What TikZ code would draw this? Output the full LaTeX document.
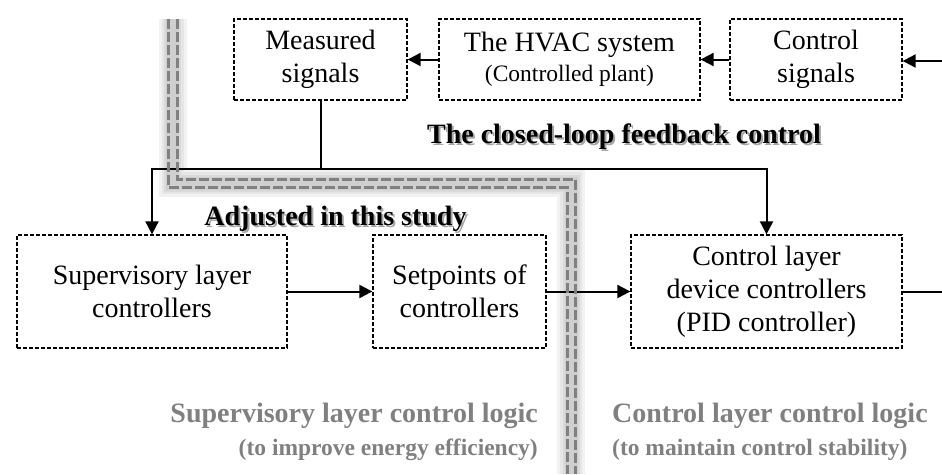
\documentclass[tikz,border=0pt]{standalone}
\usepackage{fontspec}
\setmainfont{Liberation Serif}
\usetikzlibrary{positioning,arrows.meta}
\newcommand{\shadowtext}[1]{\makebox[0pt][l]{\hspace{2pt}\raisebox{-2pt}[0pt][0pt]{\color{black!35}#1}}#1}

\begin{document}
\begin{tikzpicture}[x=1pt,y=-1pt,
  box/.style={draw, dash pattern=on 4pt off 2pt, line width=1.3, fill=white, align=center, inner sep=0pt, font=\fontsize{28}{33}\selectfont},
  conn/.style={line width=2, -{Triangle[length=13pt,width=13pt]}},
  title/.style={font=\fontsize{28}{33}\selectfont\bfseries, inner sep=0pt, anchor=base},
  note/.style={text=gray, font=\fontsize{28}{33}\selectfont\bfseries, inner sep=0pt},
  subnote/.style={text=gray, font=\fontsize{23.5}{28}\selectfont\bfseries, inner sep=0pt},
  grayline/.style={gray, line width=3, dash pattern=on 10pt off 3pt}]
\useasboundingbox (0,0) rectangle (942,474);

\foreach \w in {28,22,17,13}
  \draw[black, opacity=0.05, line width=\w] (172.5,19) -- (172.5,183) -- (571,183) -- (571,474);

\node[box, minimum width=173, minimum height=81] (meas) at (320.5,59.5) {Measured\\signals};
\node[box, minimum width=261, minimum height=81] (hvac) at (569.5,59.5) {The HVAC system\\[-3pt]{\fontsize{23.5}{28}\selectfont (Controlled plant)}};
\node[box, minimum width=172, minimum height=81] (ctrlsig) at (816,59.5) {Control\\signals};
\node[box, minimum width=270, minimum height=113] (sup) at (152,291.5) {Supervisory layer\\controllers};
\node[box, minimum width=173, minimum height=113] (setp) at (459.5,291.5) {Setpoints of\\controllers};
\node[box, minimum width=271, minimum height=113] (ctrl) at (766.5,291.5) {Control layer\\device controllers\\(PID controller)};

\coordinate (rin) at (942,61);
\coordinate (rout) at (942,291.5);
\draw[conn] (rin) -- (rin -| ctrlsig.east);
\draw[conn] (ctrlsig.west) -- (hvac.east);
\draw[conn] (hvac.west) -- (meas.east);
\draw[line width=2] (meas.south) -- ++(0,68) coordinate (fb);
\draw[conn] (fb) -| (sup.north);
\draw[conn] (fb) -| (ctrl.north);
\draw[conn] (sup.east) -- (setp.west);
\draw[conn] (setp.east) -- (ctrl.west);
\draw[line width=2] (ctrl.east) -- (rout);

\draw[grayline] (168,19) -- (168,187) -- (567,187) -- (567,474);
\draw[grayline] (177,19) -- (177,179) -- (575,179) -- (575,474);

\node[title] (fbtitle) at (624,143) {\shadowtext{The closed-loop feedback control}};
\node[title] (adjtitle) at (335.5,225) {\shadowtext{Adjusted in this study}};
\node[note, anchor=base east] (suplogic) at (538,422) {Supervisory layer control logic};
\node[subnote, anchor=base east] (supaim) at (538,455) {(to improve energy efficiency)};
\node[note, anchor=base west] (ctrllogic) at (612,422) {Control layer control logic};
\node[subnote, anchor=base west] (ctrlaim) at (612,455) {(to maintain control stability)};
\end{tikzpicture}
\end{document}
